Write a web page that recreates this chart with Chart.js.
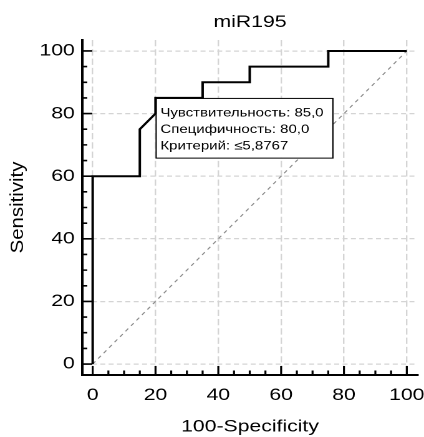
<!DOCTYPE html>
<html>
<head>
<meta charset="utf-8">
<script src="https://cdn.jsdelivr.net/npm/chart.js@4.4.0/dist/chart.umd.min.js"></script>
<style>
  html, body { margin: 0; padding: 0; background: #fff; }
  #chart-area { display: block; width: 424px !important; height: 437px !important; }
</style>
</head>
<body>
<canvas id="chart-area" width="340" height="437" style="width:424px;height:437px"></canvas>
<script>
// ROC curve, 100-Specificity vs Sensitivity
var rocX = [0, 0, 15, 15, 20, 20, 35, 35, 50, 50, 75, 75, 100];
var rocY = [0, 60, 60, 75, 80, 85, 85, 90, 90, 95, 95, 100, 100];
var diagX = [0, 100];
var diagY = [0, 100];
var tickValues = [0, 20, 40, 60, 80, 100];
var minorValues = [5, 10, 15, 25, 30, 35, 45, 50, 55, 65, 70, 75, 85, 90, 95];
var chartTitle = 'miR195';
var xTitle = '100-Specificity';
var yTitle = 'Sensitivity';
var boxAt = [20, 85];
var boxLines = ['Чувствительность: 85,0', 'Специфичность: 80,0', 'Критерий: ≤5,8767'];

var fontFamily = '"Liberation Sans", Arial, sans-serif';
Chart.defaults.font.family = fontFamily;
Chart.defaults.color = '#000';

function toPoints(xs, ys) {
    var pts = [];
    for (var i = 0; i < xs.length; i++) {
        pts.push({ x: xs[i], y: ys[i] });
    }
    return pts;
}

function drawBox(chart) {
    var ctx = chart.ctx;
    var x0 = chart.scales.x.getPixelForValue(boxAt[0]);
    var y0 = chart.scales.y.getPixelForValue(boxAt[1]);
    ctx.save();
    ctx.font = '12px ' + fontFamily;
    var w = 0;
    for (var i = 0; i < boxLines.length; i++) {
        w = Math.max(w, ctx.measureText(boxLines[i]).width);
    }
    var lineH = 16.6;
    var boxW = w + 11;
    var boxH = 18.5 + lineH * (boxLines.length - 1) + 8;
    ctx.fillStyle = '#fff';
    ctx.fillRect(x0, y0, boxW, boxH);
    ctx.strokeStyle = '#000';
    ctx.lineWidth = 1;
    ctx.strokeRect(x0 + 0.5, y0 + 0.5, boxW, boxH);
    ctx.fillStyle = '#000';
    ctx.textBaseline = 'alphabetic';
    for (var j = 0; j < boxLines.length; j++) {
        ctx.fillText(boxLines[j], x0 + 4, y0 + 18.5 + j * lineH);
    }
    ctx.restore();
}

function drawInnerTicks(chart) {
    var ctx = chart.ctx;
    var area = chart.chartArea;
    var xs = chart.scales.x;
    var ys = chart.scales.y;
    var all = tickValues.concat(minorValues);
    ctx.save();
    ctx.strokeStyle = '#000';
    ctx.lineWidth = 1.6;
    for (var i = 0; i < all.length; i++) {
        var major = tickValues.indexOf(all[i]) >= 0;
        var px = xs.getPixelForValue(all[i]);
        var py = ys.getPixelForValue(all[i]);
        ctx.beginPath();
        ctx.moveTo(px, area.bottom);
        ctx.lineTo(px, area.bottom - (major ? 9 : 4.5));
        ctx.moveTo(area.left, py);
        ctx.lineTo(area.left + (major ? 8 : 4), py);
        ctx.stroke();
    }
    ctx.restore();
}

function drawTitles(chart) {
    var ctx = chart.ctx;
    var area = chart.chartArea;
    ctx.save();
    ctx.font = '17px ' + fontFamily;
    ctx.fillStyle = '#000';
    ctx.textAlign = 'center';
    ctx.textBaseline = 'alphabetic';
    ctx.fillText(chartTitle, (area.left + area.right) / 2, 27);
    // y axis title, rotated
    ctx.translate(14.4, (area.top + area.bottom) / 2);
    ctx.rotate(-Math.PI / 2);
    ctx.scale(1.2, 0.86);
    ctx.textBaseline = 'middle';
    ctx.fillText(yTitle, 0, 0);
    ctx.restore();
}

var rocExtras = {
    id: 'rocExtras',
    afterDatasetDraw: function (chart, args) {
        // box goes over the diagonal but under the ROC line
        if (args.index === 1) {
            drawBox(chart);
        }
    },
    afterDraw: function (chart) {
        drawInnerTicks(chart);
        drawTitles(chart);
    }
};

var config = {
    type: 'scatter',
    data: {
        datasets: [{
            data: toPoints(rocX, rocY),
            showLine: true,
            borderColor: '#000',
            borderWidth: 2,
            pointRadius: 0,
            tension: 0,
            fill: false
        }, {
            data: toPoints(diagX, diagY),
            showLine: true,
            borderColor: '#8a8a8a',
            borderWidth: 1,
            borderDash: [3.5, 3.5],
            pointRadius: 0,
            fill: false
        }]
    },
    options: {
        responsive: false,
        devicePixelRatio: 2,
        animation: false,
        events: [],
        layout: { padding: { top: 40, right: 5, bottom: 0, left: 0 } },
        plugins: {
            legend: { display: false },
            tooltip: { enabled: false },
            title: { display: false }
        },
        scales: {
            x: {
                type: 'linear',
                min: -3.3,
                max: 103.5,
                afterBuildTicks: function (scale) {
                    scale.ticks = tickValues.map(function (v) { return { value: v }; });
                },
                afterFit: function (scale) {
                    scale.height = 62;
                    scale.paddingLeft = 0;
                    scale.paddingRight = 0;
                },
                grid: { color: '#d4d4d4', lineWidth: 1.2, drawTicks: false },
                border: { display: true, color: '#000', width: 2, dash: [6.3, 3] },
                ticks: { color: '#000', font: { size: 17 }, padding: 10, maxRotation: 0, autoSkip: false },
                title: { display: true, text: xTitle, color: '#000', font: { size: 17 }, padding: 0 }
            },
            y: {
                type: 'linear',
                min: -3.5,
                max: 103.5,
                afterBuildTicks: function (scale) {
                    scale.ticks = tickValues.map(function (v) { return { value: v }; });
                },
                afterFit: function (scale) {
                    scale.width = 66;
                },
                grid: { color: '#d4d4d4', lineWidth: 1.2, drawTicks: false },
                border: { display: true, color: '#000', width: 2, dash: [4, 2.7] },
                ticks: { color: '#000', font: { size: 17 }, padding: 6, autoSkip: false },
                title: { display: false }
            }
        }
    },
    plugins: [rocExtras]
};

var ctx = document.getElementById('chart-area').getContext('2d');
window.rocChart = new Chart(ctx, config);
</script>
</body>
</html>
